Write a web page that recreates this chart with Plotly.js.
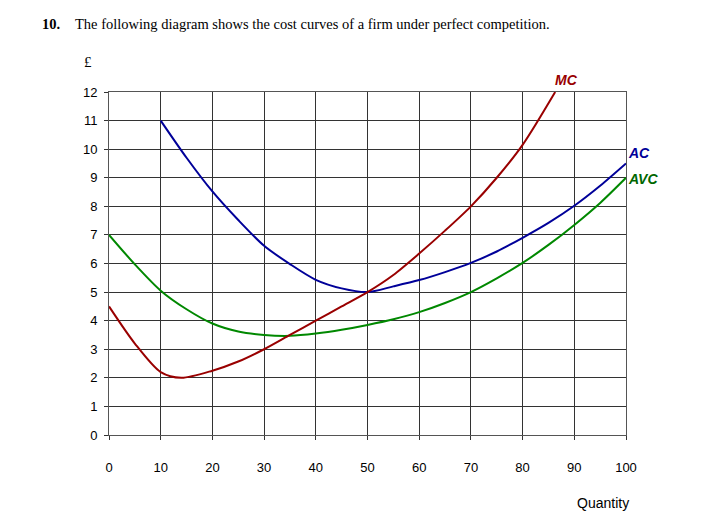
<!DOCTYPE html>
<html>
<head>
<meta charset="utf-8">
<script src="https://cdn.plot.ly/plotly-3.0.1.min.js"></script>
<style>
  body { margin: 0; background: #fff; }
  #chart { width: 712px; height: 515px; }
</style>
</head>
<body>
<div id="chart"></div>
<script>
// cost curves
let mcQty = [0, 5, 10, 14, 20, 25, 30, 35, 40, 45, 50, 55, 60, 65, 70, 75, 80, 86.3];
let mcCost = [4.5, 3.2, 2.2, 2.0, 2.25, 2.57, 3.0, 3.5, 4.0, 4.5, 5.0, 5.6, 6.35, 7.15, 8.0, 9.0, 10.15, 12.0];

let acQty = [10, 15, 20, 25, 30, 35, 40, 45, 50, 55, 60, 65, 70, 75, 80, 85, 90, 95, 100];
let acCost = [11.0, 9.7, 8.52, 7.52, 6.62, 5.98, 5.43, 5.13, 5.0, 5.2, 5.42, 5.7, 6.02, 6.42, 6.9, 7.42, 8.02, 8.72, 9.5];

let avcQty = [0, 5, 10, 15, 20, 25, 30, 35, 40, 45, 50, 55, 60, 65, 70, 75, 80, 85, 90, 95, 100];
let avcCost = [7.0, 5.97, 5.05, 4.4, 3.9, 3.62, 3.5, 3.47, 3.55, 3.68, 3.85, 4.05, 4.3, 4.62, 5.0, 5.48, 6.02, 6.65, 7.35, 8.12, 9.0];

let xTicks = [0, 10, 20, 30, 40, 50, 60, 70, 80, 90, 100];
let yTicks = [0, 1, 2, 3, 4, 5, 6, 7, 8, 9, 10, 11, 12];

let sans = "Liberation Sans, Arial, sans-serif";
let serif = "Liberation Serif, Times New Roman, serif";

let traceMC = {
  x: mcQty, y: mcCost, type: "scatter", mode: "lines",
  line: {color: "#990000", width: 2, shape: "spline", smoothing: 0.8},
  hoverinfo: "skip"
};
let traceAC = {
  x: acQty, y: acCost, type: "scatter", mode: "lines",
  line: {color: "#000099", width: 2, shape: "spline", smoothing: 0.8},
  hoverinfo: "skip"
};
let traceAVC = {
  x: avcQty, y: avcCost, type: "scatter", mode: "lines",
  line: {color: "#008800", width: 2, shape: "spline", smoothing: 0.8},
  hoverinfo: "skip"
};

// paper coords span the plot area: x 109..626 px, y 435..92 px
let px = v => (v - 109) / 517;
let py = v => (435 - v) / 343;

let layout = {
  width: 712, height: 515,
  margin: {l: 109, r: 86, t: 92, b: 80},
  paper_bgcolor: "#fff", plot_bgcolor: "#fff",
  showlegend: false,
  font: {family: sans, size: 13, color: "#000"},
  xaxis: {
    range: [0, 100], tickvals: xTicks, ticks: "outside", ticklen: 4,
    tickcolor: "#333", showgrid: true, gridcolor: "#333", gridwidth: 1,
    zeroline: false, showline: true, linecolor: "#555", mirror: true,
    ticklabelstandoff: 16, fixedrange: true
  },
  yaxis: {
    range: [0, 12], tickvals: yTicks, ticks: "outside", ticklen: 4,
    tickcolor: "#333", showgrid: true, gridcolor: "#333", gridwidth: 1,
    zeroline: false, showline: true, linecolor: "#555", mirror: true,
    ticklabelstandoff: 4, fixedrange: true
  },
  annotations: [
    {xref: "paper", yref: "paper", x: px(40), y: py(24), xanchor: "left", yanchor: "middle",
     text: "<b>10.</b>", showarrow: false, font: {family: serif, size: 14.5}},
    {xref: "paper", yref: "paper", x: px(73), y: py(24), xanchor: "left", yanchor: "middle",
     text: "The following diagram shows the cost curves of a firm under perfect competition.",
     showarrow: false, font: {family: serif, size: 14.5}},
    {xref: "paper", yref: "paper", x: px(88), y: py(62), xanchor: "center", yanchor: "middle",
     text: "£", showarrow: false, font: {family: serif, size: 15}},
    {xref: "paper", yref: "paper", x: px(603), y: py(503), xanchor: "center", yanchor: "middle",
     text: "Quantity", showarrow: false, font: {family: sans, size: 14}},
    {x: 88.5, y: 12, xref: "x", yref: "y", yshift: 12, text: "<b><i>MC</i></b>", showarrow: false,
     font: {family: sans, size: 14, color: "#990000"}},
    {x: 100, y: 9.5, xref: "x", yref: "y", xanchor: "left", yshift: 10, text: "<b><i>AC</i></b>", showarrow: false,
     font: {family: sans, size: 14, color: "#000099"}},
    {x: 100, y: 9.0, xref: "x", yref: "y", xanchor: "left", yshift: -1, text: "<b><i>AVC</i></b>", showarrow: false,
     font: {family: sans, size: 14, color: "#006600"}}
  ]
};

Plotly.newPlot("chart", [traceAVC, traceAC, traceMC], layout, {displayModeBar: false, staticPlot: true});
</script>
</body>
</html>
